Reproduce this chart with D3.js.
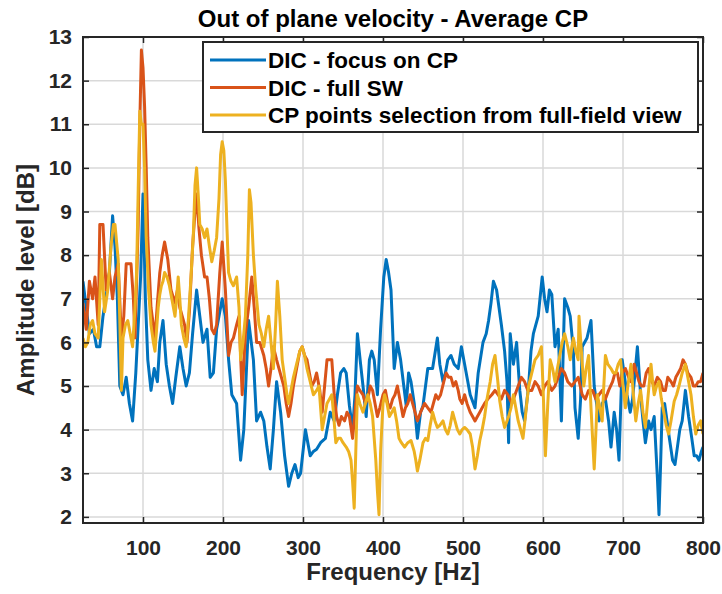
<!DOCTYPE html>
<html>
<head>
<meta charset="utf-8">
<script src="https://cdn.jsdelivr.net/npm/d3@7"></script>
<style>
  body { margin: 0; background: #fff; }
  svg { display: block; }
</style>
</head>
<body>
<svg id="chart" width="722" height="594"></svg>
<script>
// data: [frequency Hz, amplitude dB]
let focusCP = [[25,7.4],[29,6.8],[33,6.2],[38,6.3],[42,5.9],[46,5.9],[50,6.6],[55,7.2],[58,7.6],[62,8.9],[65,8.2],[68,7.0],[71,5.0],[75,4.8],[79,5.2],[83,4.6],[87,4.2],[91,5.3],[94,6.4],[97,7.5],[100,9.4],[103,7.0],[106,5.6],[110,4.9],[114,5.4],[118,5.1],[121,6.0],[125,6.5],[129,5.5],[133,5.0],[137,4.6],[141,5.2],[146,5.9],[150,5.4],[154,5.0],[158,5.3],[162,6.2],[167,7.2],[171,6.6],[175,6.0],[180,6.3],[184,5.2],[188,5.3],[192,6.3],[199,7.0],[203,6.6],[207,5.6],[211,4.8],[217,4.6],[222,3.3],[226,4.0],[232,6.5],[238,5.6],[242,4.2],[247,4.4],[251,4.2],[255,3.6],[259,3.1],[263,4.0],[267,5.1],[272,4.4],[277,3.4],[282,2.7],[286,3.0],[290,3.2],[294,2.9],[297,3.0],[303,4.0],[309,3.4],[313,3.5],[317,3.55],[322,3.7],[328,3.8],[334,4.4],[339,4.2],[343,4.8],[347,5.3],[351,5.4],[354,5.3],[358,4.55],[362,4.0],[365,4.8],[368,6.2],[372,5.5],[375,5.0],[379,4.3],[383,5.6],[386,5.8],[389,5.6],[393,4.8],[397,6.3],[401,7.5],[404,7.9],[407,7.6],[410,7.2],[414,5.4],[418,6.0],[422,5.6],[426,5.0],[429,4.55],[432,5.3],[435,5.1],[439,4.6],[443,3.8],[447,4.4],[450,4.55],[456,5.4],[462,5.4],[468,6.1],[471,5.5],[475,5.1],[478,5.3],[481,5.6],[485,5.7],[489,5.5],[494,5.4],[498,5.9],[502,5.5],[505,5.2],[509,4.8],[515,4.5],[519,5.3],[525,6.0],[529,6.2],[532,6.5],[535,6.9],[538,7.4],[542,7.2],[545,6.8],[548,6.4],[552,5.8],[555,5.1],[557,3.7],[559,6.2],[563,5.5],[567,6.0],[571,4.9],[574,4.4],[577,4.2],[582,5.0],[585,5.8],[588,6.2],[594,6.6],[599,7.5],[602,7.0],[605,6.7],[608,7.2],[611,7.1],[615,5.9],[619,6.3],[623,4.2],[627,7.0],[631,6.8],[634,6.6],[638,5.8],[640,4.5],[644,3.8],[647,4.7],[649,5.9],[655,6.1],[660,6.5],[664,5.0],[667,4.6],[670,4.2],[674,4.6],[678,4.7],[682,4.2],[685,3.6],[689,4.4],[692,4.0],[695,3.3],[699,5.6],[702,5.2],[705,4.8],[709,4.4],[712,4.7],[715,5.3],[718,5.9],[722,4.8],[725,4.2],[728,3.7],[732,4.2],[735,4.0],[739,4.3],[743,2.9],[745,2.05],[747,3.2],[749,4.5],[752,4.6],[755,4.2],[758,3.8],[762,3.3],[765,3.2],[768,3.6],[771,4.0],[774,4.2],[778,4.9],[782,4.3],[786,3.8],[789,3.4],[792,3.4],[795,3.3],[798,3.5],[800,3.6]]

let fullSW = [[25,6.9],[29,6.3],[33,7.4],[37,7.0],[40,7.5],[44,6.4],[46,8.7],[50,8.7],[54,7.2],[58,7.6],[62,7.0],[65,7.5],[69,7.8],[73,6.1],[76,6.6],[79,7.8],[85,7.8],[88,7.0],[90,6.1],[94,8.7],[96,11.0],[98,12.7],[100,12.3],[102,11.4],[104,10.0],[106,8.4],[110,6.8],[115,6.1],[118,6.9],[121,7.6],[124,8.0],[127,8.3],[131,7.9],[135,7.2],[140,6.9],[143,7.2],[146,6.8],[149,6.6],[152,6.4],[155,6.0],[158,6.7],[162,8.2],[165,9.0],[167,9.4],[170,8.6],[173,8.0],[177,7.5],[180,7.5],[183,7.0],[186,6.3],[189,6.2],[192,6.4],[196,7.6],[199,8.3],[203,7.2],[207,5.7],[210,6.0],[213,6.1],[217,6.4],[220,6.6],[224,4.8],[228,6.2],[232,6.8],[236,7.5],[239,6.8],[242,6.0],[246,6.0],[251,5.7],[254,5.4],[257,5.0],[260,5.4],[263,5.9],[267,5.6],[270,5.4],[273,5.2],[276,5.0],[279,4.6],[282,4.3],[285,4.6],[288,5.0],[292,5.4],[296,5.8],[299,5.9],[302,5.7],[305,5.6],[308,5.3],[311,5.0],[314,5.1],[317,5.3],[321,4.9],[324,4.4],[327,5.0],[330,5.6],[333,5.6],[336,5.6],[339,4.8],[342,4.3],[345,4.1],[348,4.3],[352,4.2],[355,4.4],[358,4.3],[362,3.8],[365,4.4],[368,5.0],[371,4.9],[375,4.8],[378,4.6],[381,4.7],[384,5.0],[387,4.9],[390,4.6],[393,4.3],[396,4.5],[400,4.8],[403,4.9],[406,4.6],[409,4.5],[412,4.7],[415,4.8],[418,5.0],[421,4.7],[425,4.3],[428,4.5],[431,4.6],[434,4.8],[437,4.6],[440,4.4],[443,4.2],[447,4.4],[452,4.6],[456,4.5],[460,4.4],[463,4.6],[466,4.8],[469,4.7],[472,4.8],[476,5.1],[479,5.3],[482,5.2],[485,5.2],[488,5.0],[491,5.1],[494,4.9],[496,4.7],[499,4.6],[502,4.8],[505,4.6],[509,4.4],[512,4.3],[515,4.2],[518,4.3],[521,4.4],[524,4.5],[527,4.6],[531,4.7],[536,4.8],[540,4.9],[544,4.8],[548,4.7],[552,4.9],[556,4.8],[561,4.6],[565,4.8],[569,5.0],[573,5.2],[577,5.1],[581,4.9],[586,4.9],[590,5.1],[594,5.0],[598,4.8],[602,5.0],[606,5.1],[611,4.9],[615,5.0],[619,5.2],[623,5.4],[627,5.3],[631,5.1],[636,5.0],[640,5.1],[644,5.2],[649,4.8],[653,4.7],[657,4.9],[662,4.9],[666,4.7],[670,4.8],[674,4.9],[678,4.7],[682,4.9],[687,5.1],[690,5.3],[693,5.3],[696,5.0],[699,5.3],[703,5.4],[707,5.2],[710,5.1],[714,5.5],[717,5.3],[720,5.1],[723,5.0],[726,5.0],[729,5.3],[732,5.4],[736,5.1],[739,5.0],[743,5.2],[747,5.1],[750,4.9],[753,4.9],[756,5.2],[760,5.1],[763,5.0],[766,5.2],[769,5.3],[772,5.4],[775,5.6],[778,5.5],[781,5.3],[785,5.2],[788,5.0],[791,5.0],[794,5.1],[797,5.1],[800,5.3]]

let cpSelection = [[25,6.1],[28,5.9],[31,6.0],[34,6.4],[37,6.5],[40,6.2],[44,6.1],[48,7.9],[52,6.7],[56,7.2],[60,8.2],[63,8.7],[65,8.7],[67,8.3],[69,7.9],[71,6.5],[73,4.9],[75,6.1],[78,6.4],[81,6.5],[84,6.2],[87,5.9],[90,6.8],[92,7.6],[94,9.5],[96,11.3],[98,11.0],[100,11.0],[102,10.0],[104,8.4],[107,7.2],[110,6.4],[113,6.0],[115,5.8],[117,6.3],[119,6.8],[121,7.1],[123,7.3],[125,7.4],[127,7.6],[130,7.5],[133,7.3],[136,7.0],[140,6.6],[142,7.0],[144,7.5],[146,7.0],[148,6.4],[151,6.1],[154,5.9],[157,6.6],[160,7.5],[163,8.5],[165,9.6],[167,10.0],[169,9.4],[171,8.7],[174,8.6],[177,8.4],[180,8.6],[183,8.2],[186,7.85],[189,8.1],[192,8.4],[195,9.3],[197,10.3],[199,10.6],[201,10.4],[203,9.7],[205,8.6],[207,7.6],[210,7.4],[213,7.3],[217,7.5],[220,6.8],[222,5.6],[225,6.0],[228,6.6],[231,8.0],[233,9.5],[235,9.2],[238,8.0],[241,7.2],[245,6.4],[248,6.2],[251,5.9],[254,6.3],[257,6.6],[260,6.0],[263,5.4],[266,6.5],[268,7.4],[271,6.6],[274,5.6],[277,5.2],[280,4.8],[282,4.6],[285,4.9],[288,5.2],[292,5.5],[296,5.8],[299,5.9],[302,5.7],[305,5.4],[309,5.1],[313,4.8],[317,4.9],[320,5.0],[322,4.5],[324,4.0],[327,4.3],[330,4.6],[333,4.7],[336,4.8],[338,4.4],[341,3.7],[344,3.8],[347,3.8],[350,3.7],[354,3.6],[357,3.5],[360,3.3],[362,2.8],[364,2.2],[366,3.5],[368,4.8],[371,4.6],[375,4.4],[378,4.6],[381,4.8],[384,4.6],[387,4.3],[389,3.8],[391,3.3],[393,2.6],[395,2.05],[397,3.5],[400,4.6],[402,4.8],[405,4.6],[408,4.3],[411,4.4],[414,4.5],[417,4.2],[420,3.8],[423,3.7],[427,3.6],[431,3.7],[435,3.75],[439,3.5],[441,3.3],[443,3.05],[446,3.3],[450,3.7],[453,3.8],[456,3.75],[459,4.1],[462,4.4],[465,4.2],[468,4.05],[471,4.1],[475,4.2],[478,4.0],[481,3.9],[484,4.1],[487,4.4],[490,4.2],[493,4.0],[496,3.9],[499,4.0],[502,4.05],[505,4.0],[509,3.9],[512,3.6],[515,3.1],[518,3.4],[521,3.75],[524,4.0],[527,4.3],[530,4.7],[534,5.1],[537,5.5],[540,5.7],[543,5.2],[546,4.65],[549,4.3],[552,4.05],[555,4.2],[557,4.3],[560,4.5],[563,4.8],[566,4.5],[569,4.2],[572,4.0],[575,3.8],[578,4.3],[582,5.0],[586,5.3],[590,5.6],[594,5.7],[598,5.9],[600,5.0],[603,3.4],[606,4.6],[609,5.6],[612,5.4],[615,5.1],[618,5.4],[621,5.7],[624,6.0],[627,6.2],[631,5.9],[634,5.6],[636,5.9],[638,6.1],[641,5.8],[644,5.6],[645,6.6],[648,5.8],[651,5.0],[654,5.4],[657,5.7],[660,4.5],[664,3.1],[666,3.9],[668,4.8],[671,4.5],[674,4.2],[676,5.0],[678,5.7],[681,5.5],[685,5.4],[688,5.3],[691,5.3],[694,5.5],[697,5.6],[700,5.0],[703,4.5],[706,5.0],[710,5.5],[713,4.8],[716,4.2],[719,4.6],[722,4.9],[725,4.4],[728,4.05],[731,4.7],[735,5.5],[737,5.1],[739,4.8],[742,5.0],[745,5.1],[748,4.7],[751,4.4],[754,4.1],[757,3.9],[760,4.2],[764,4.65],[767,4.8],[770,5.0],[774,5.3],[778,5.5],[781,5.2],[785,4.8],[788,4.3],[791,3.9],[794,4.1],[797,4.2],[800,3.9]]

let seriesNames = ["DIC - focus on CP", "DIC - full SW", "CP points selection from full-field view"]
let seriesColors = ["#0072BD", "#D95319", "#EDB120"]
let xTicks = [100, 200, 300, 400, 500, 600, 700, 800]
let yTicks = [2, 3, 4, 5, 6, 7, 8, 9, 10, 11, 12, 13]

let font = "'Liberation Sans', Arial, Helvetica, sans-serif"
let ink = "#262626"
let margin = { left: 83, right: 19, top: 37, bottom: 71 }
let width = 722, height = 594

let svg = d3.select("#chart")

// 比例尺
let xScale = d3.scaleLinear().domain([25, 800]).range([margin.left, width - margin.right])
let yScale = d3.scaleLinear().domain([1.86, 13]).range([height - margin.bottom, margin.top])
let x0 = xScale.range()[0], x1 = xScale.range()[1]
let y0 = yScale.range()[0], y1 = yScale.range()[1]

svg.append("rect")
    .attr("x", x0).attr("y", y1)
    .attr("width", x1 - x0).attr("height", y0 - y1)
    .attr("fill", "#fff")

// grid
svg.append("g").selectAll("line")
    .data(xTicks)
    .enter()
    .append("line")
    .attr("x1", d => xScale(d)).attr("x2", d => xScale(d))
    .attr("y1", y1).attr("y2", y0)
    .attr("stroke", "#d9d9d9").attr("stroke-width", 1.5)
svg.append("g").selectAll("line")
    .data(yTicks)
    .enter()
    .append("line")
    .attr("x1", x0).attr("x2", x1)
    .attr("y1", d => yScale(d)).attr("y2", d => yScale(d))
    .attr("stroke", "#d9d9d9").attr("stroke-width", 1.5)

// lines
svg.append("clipPath").attr("id", "plotClip")
    .append("rect")
    .attr("x", x0).attr("y", y1)
    .attr("width", x1 - x0).attr("height", y0 - y1)

let line = d3.line()
    .x(d => xScale(d[0]))
    .y(d => yScale(d[1]))

let allSeries = [focusCP, fullSW, cpSelection]
svg.append("g")
    .attr("clip-path", "url(#plotClip)")
    .selectAll("path")
    .data(allSeries)
    .enter()
    .append("path")
    .attr("d", d => line(d))
    .attr("fill", "none")
    .attr("stroke", (d, i) => seriesColors[i])
    .attr("stroke-width", 3)
    .attr("stroke-linejoin", "round")

// axes (ticks inside, box on)
let xAxis = svg.append("g")
    .attr("transform", "translate(0," + y0 + ")")
    .call(d3.axisBottom(xScale).tickValues(xTicks).tickSizeInner(-6).tickSizeOuter(0).tickPadding(17))
let yAxis = svg.append("g")
    .attr("transform", "translate(" + x0 + ",0)")
    .call(d3.axisLeft(yScale).tickValues(yTicks).tickSizeInner(-6).tickSizeOuter(0).tickPadding(11))
svg.append("g")
    .attr("transform", "translate(0," + y1 + ")")
    .call(d3.axisTop(xScale).tickValues(xTicks).tickSizeInner(-6).tickSizeOuter(0).tickFormat(""))
svg.append("g")
    .attr("transform", "translate(" + x1 + ",0)")
    .call(d3.axisRight(yScale).tickValues(yTicks).tickSizeInner(-6).tickSizeOuter(0).tickFormat(""))

svg.selectAll(".domain").remove()
svg.selectAll(".tick line").attr("stroke", ink).attr("stroke-width", 1.5)
;[xAxis, yAxis].forEach(a => {
    a.selectAll("text")
        .attr("font-family", font)
        .attr("font-size", 21)
        .attr("font-weight", "bold")
        .attr("fill", ink)
})

svg.append("rect")
    .attr("x", x0).attr("y", y1)
    .attr("width", x1 - x0).attr("height", y0 - y1)
    .attr("fill", "none")
    .attr("stroke", ink)
    .attr("stroke-width", 2)

// titles
svg.append("text")
    .attr("x", (x0 + x1) / 2).attr("y", 27)
    .attr("text-anchor", "middle")
    .attr("font-family", font).attr("font-size", 24).attr("font-weight", "bold")
    .attr("fill", "#000")
    .text("Out of plane velocity - Average CP")
svg.append("text")
    .attr("x", (x0 + x1) / 2).attr("y", 580)
    .attr("text-anchor", "middle")
    .attr("font-family", font).attr("font-size", 24).attr("font-weight", "bold")
    .attr("fill", ink)
    .text("Frequency [Hz]")
svg.append("text")
    .attr("transform", "translate(34," + ((y0 + y1) / 2) + ") rotate(-90)")
    .attr("text-anchor", "middle")
    .attr("font-family", font).attr("font-size", 24).attr("font-weight", "bold")
    .attr("fill", ink)
    .text("Amplitude level [dB]")

// legend
let legend = svg.append("g").attr("transform", "translate(203,42)")
legend.append("rect")
    .attr("width", 495).attr("height", 90)
    .attr("fill", "#fff")
    .attr("stroke", ink)
    .attr("stroke-width", 2)
let rows = legend.selectAll(".row")
    .data(seriesNames)
    .enter()
    .append("g")
    .attr("class", "row")
    .attr("transform", (d, i) => "translate(0," + (18 + i * 27.5) + ")")
rows.append("line")
    .attr("x1", 7).attr("x2", 63)
    .attr("stroke", (d, i) => seriesColors[i])
    .attr("stroke-width", 3)
rows.append("text")
    .attr("x", 65).attr("dy", "0.36em")
    .attr("font-family", font).attr("font-size", 22.5).attr("font-weight", "bold")
    .attr("fill", "#000")
    .text(d => d)
</script>
</body>
</html>
